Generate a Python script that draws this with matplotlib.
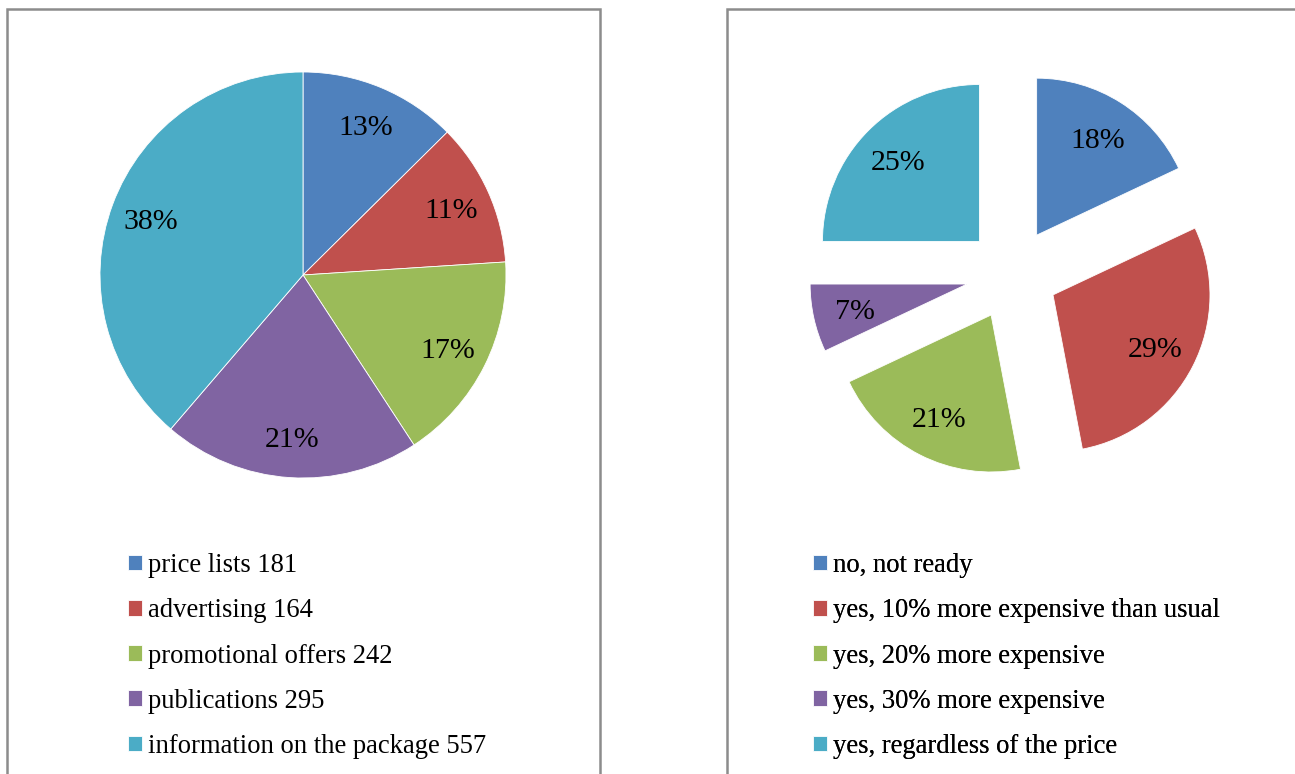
import math
import matplotlib
matplotlib.use("Agg")
import matplotlib.pyplot as plt
from matplotlib.patches import Rectangle

# ---- data ----
left_labels = ["price lists 181", "advertising 164", "promotional offers 242",
               "publications 295", "information on the package 557"]
left_values = [181, 164, 242, 295, 557]
left_pct = ["13%", "11%", "17%", "21%", "38%"]

right_labels = ["no, not ready", "yes, 10% more expensive than usual",
                "yes, 20% more expensive", "yes, 30% more expensive",
                "yes, regardless of the price"]
right_values = [18, 29, 21, 7, 25]
right_pct = ["18%", "29%", "21%", "7%", "25%"]

colors = ["#4F81BD", "#C0504D", "#9BBB59", "#8064A2", "#4BACC6"]

W, H = 1295, 774
plt.rcParams["font.family"] = ["Liberation Serif", "DejaVu Serif"]

fig = plt.figure(figsize=(W / 100, H / 100), dpi=100)
ax = fig.add_axes([0, 0, 1, 1])


def Y(y):
    # pixel row of the image -> data y
    return H - y


def draw_pie(values, pct, labels, center, radius, explode, pctdist, leg_xy):
    wedges, _ = ax.pie(values, colors=colors, startangle=90, counterclock=False,
                       center=(center[0], Y(center[1])), radius=radius,
                       explode=[explode] * len(values),
                       wedgeprops=dict(edgecolor="white", linewidth=0.6))
    # percent labels in the middle of each wedge
    for w, t in zip(wedges, pct):
        th = math.radians((w.theta1 + w.theta2) / 2)
        cx, cy = w.center
        ax.text(cx + pctdist * radius * math.cos(th),
                cy + pctdist * radius * math.sin(th) - 3,
                t, ha="center", va="center", fontsize=21.5, color="black")
    leg = ax.legend(wedges, labels, loc="upper left",
                    bbox_to_anchor=(leg_xy[0], Y(leg_xy[1])),
                    bbox_transform=ax.transData, frameon=False, fontsize=19.2,
                    handlelength=0.53, handleheight=0.53, handletextpad=0.23,
                    labelspacing=0.76, borderpad=0, borderaxespad=0)
    ax.add_artist(leg)
    return wedges


draw_pie(left_values, left_pct, left_labels, (303, 275), 203, 0, 0.8, (128, 553))
draw_pie(right_values, right_pct, right_labels, (1012, 274), 157, 46, 0.73, (813, 553))

# panel frames
for x0, x1 in [(7, 600), (727, 1310)]:
    ax.add_patch(Rectangle((x0, Y(790)), x1 - x0, 790 - 9, fill=False,
                           edgecolor="#8C8C8C", linewidth=1.8, clip_on=False))

ax.set_xlim(0, W)
ax.set_ylim(0, H)
ax.set_aspect("auto")
ax.axis("off")

fig.savefig("out.png", dpi=100)
